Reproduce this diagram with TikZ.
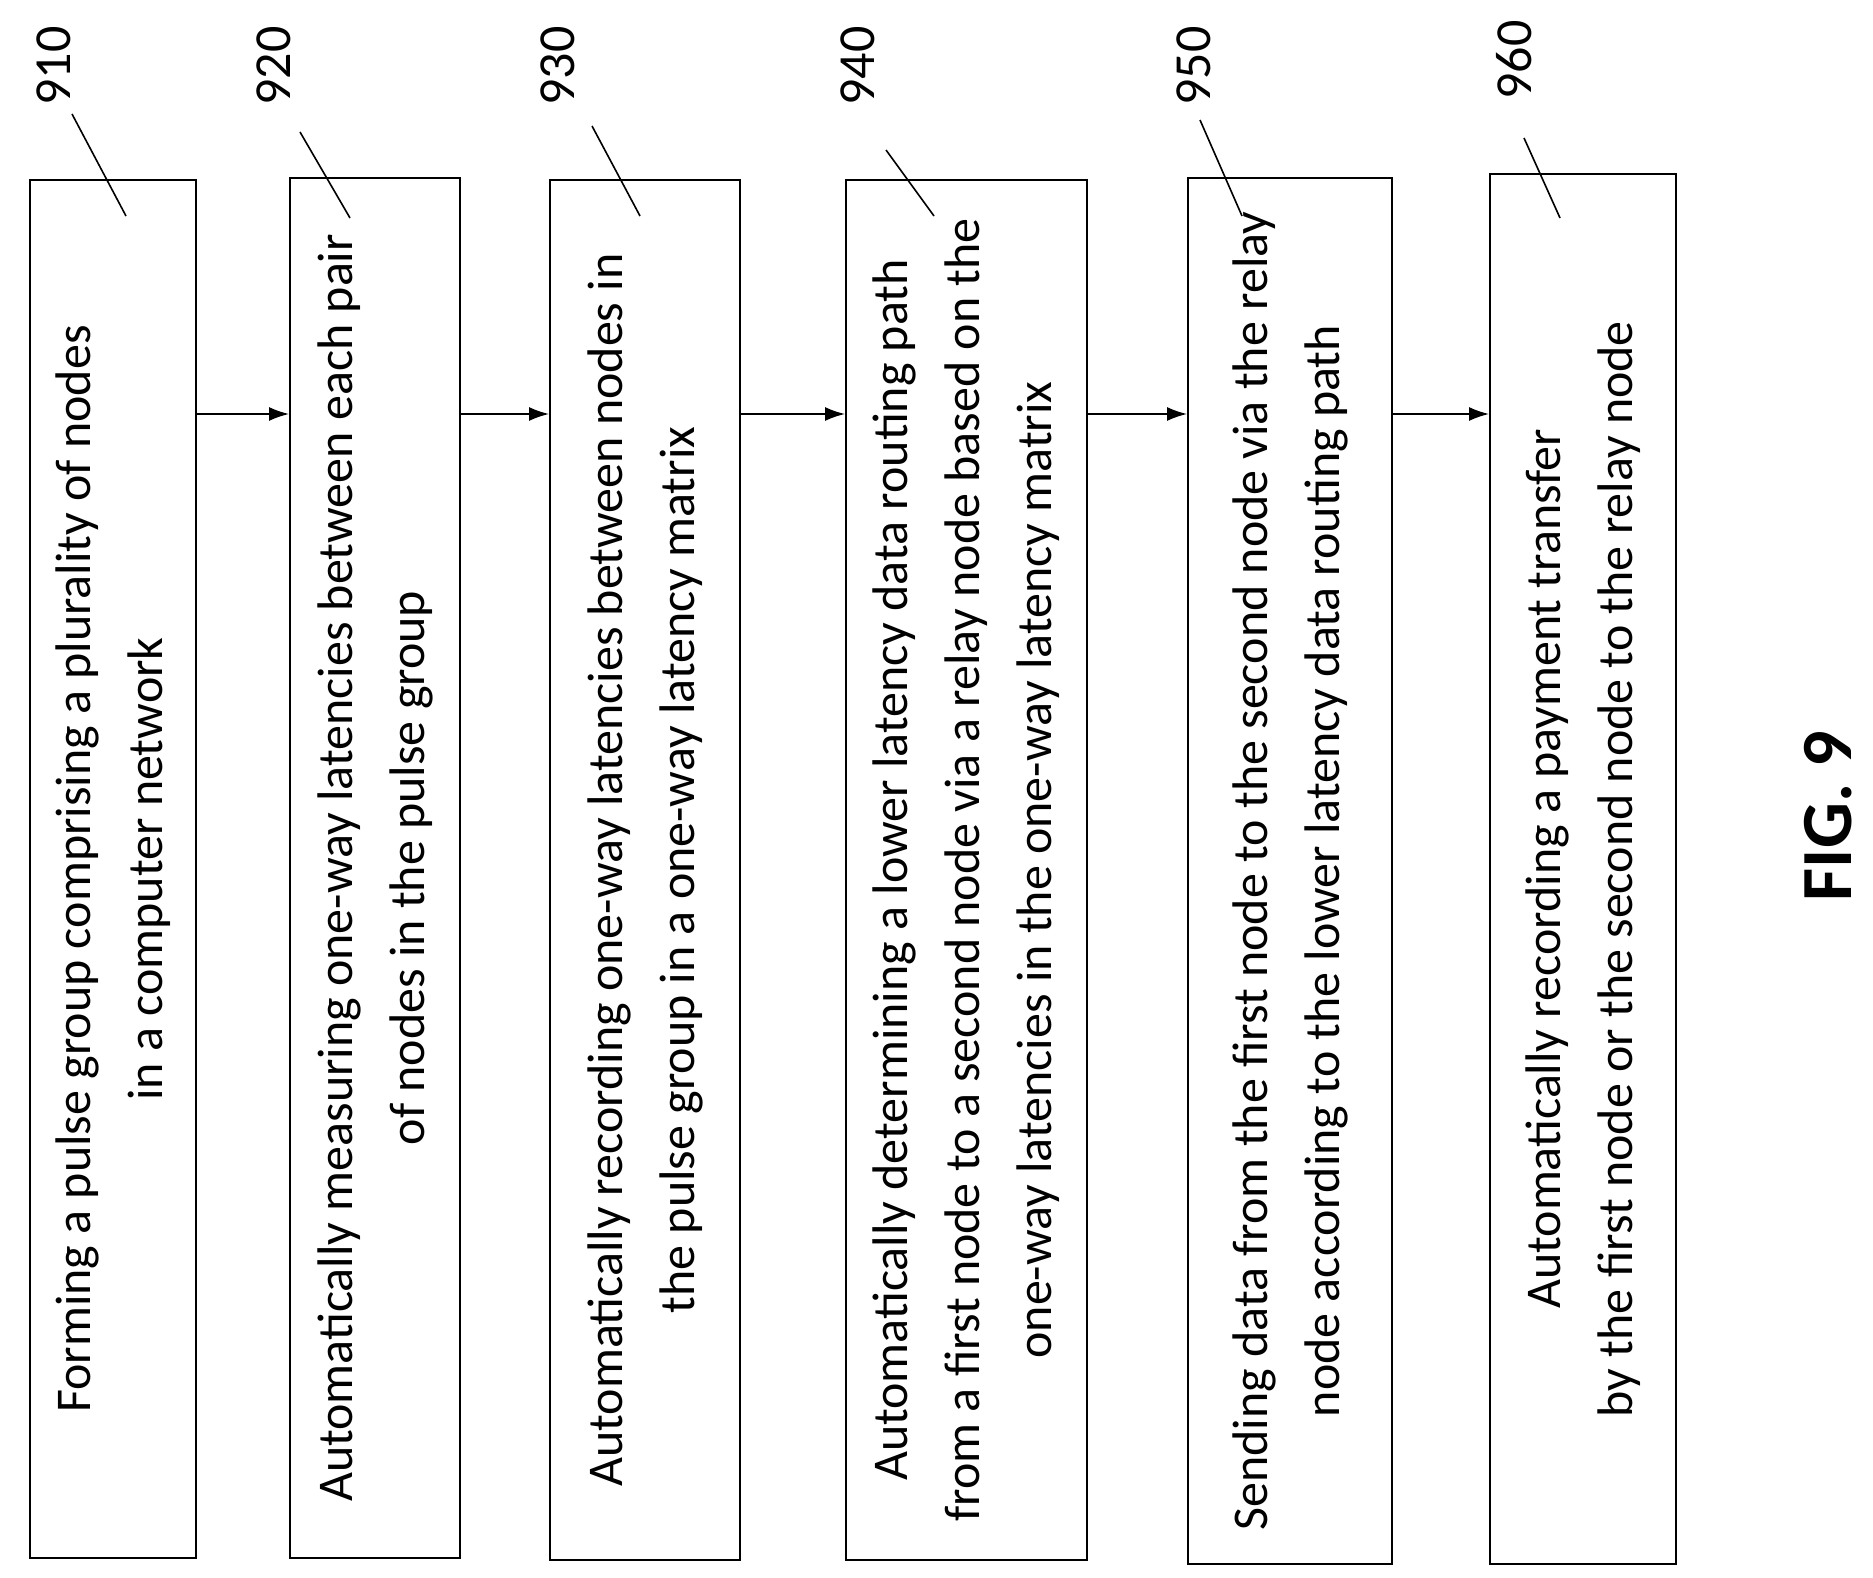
\documentclass[tikz,border=0pt]{standalone}
\usepackage{fontspec}
\setmainfont{Carlito}
\usetikzlibrary{arrows.meta}
\begin{document}
\begin{tikzpicture}[x=1pt,y=-1pt,
  box/.style={draw,line width=2pt,rotate=90,align=center,inner sep=0pt,
    font=\fontsize{50}{72}\selectfont},
  num/.style={rotate=90,font=\fontsize{52}{56}\selectfont},
  lead/.style={line width=1.6pt},
  arr/.style={line width=1.6pt,-{Latex[length=20pt,width=14pt]}}]
\useasboundingbox (0,0) rectangle (1873,1578);
\node[box,minimum width=1378pt,minimum height=166pt] (b1) at (113,869) {Forming a pulse group comprising a plurality of nodes\\in a computer network};
\node[box,minimum width=1380pt,minimum height=170pt] (b2) at (375,868) {Automatically measuring one-way latencies between each pair\\of nodes in the pulse group};
\node[box,minimum width=1380pt,minimum height=190pt] (b3) at (645,870) {Automatically recording one-way latencies between nodes in\\the pulse group in a one-way latency matrix};
\node[box,minimum width=1380pt,minimum height=241pt] (b4) at (966.5,870) {Automatically determining a lower latency data routing path\\from a first node to a second node via a relay node based on the\\one-way latencies in the one-way latency matrix};
\node[box,minimum width=1386pt,minimum height=204pt] (b5) at (1290,871) {Sending data from the first node to the second node via the relay\\node according to the lower latency data routing path};
\node[box,minimum width=1390pt,minimum height=186pt] (b6) at (1583,869) {Automatically recording a payment transfer\\by the first node or the second node to the relay node};
\foreach \a/\b in {b1/b2,b2/b3,b3/b4,b4/b5,b5/b6}
  \draw[arr] (\a.south |- 0,414) -- (\b.north |- 0,414);
\node[num] (n1) at (54,66) {910};
\node[num] (n2) at (274,66) {920};
\node[num] (n3) at (558,66) {930};
\node[num] (n4) at (858,66) {940};
\node[num] (n5) at (1194,66) {950};
\node[num] (n6) at (1514,60) {960};
\coordinate (t1) at (126,216); \draw[lead] (72,114) -- (t1);
\coordinate (t2) at (350,218); \draw[lead] (300,132) -- (t2);
\coordinate (t3) at (640,216); \draw[lead] (592,126) -- (t3);
\coordinate (t4) at (934,216); \draw[lead] (886,150) -- (t4);
\coordinate (t5) at (1242,216); \draw[lead] (1200,120) -- (t5);
\coordinate (t6) at (1560,218); \draw[lead] (1524,138) -- (t6);
\node[rotate=90,font=\fontsize{72}{76}\bfseries] (fig) at (1828,816) {FIG. 9};
\end{tikzpicture}
\end{document}
